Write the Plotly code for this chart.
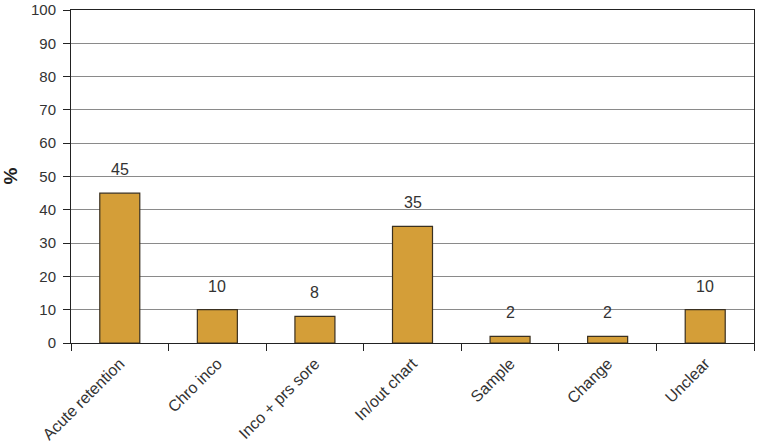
import plotly.graph_objects as go

categories = ["Acute retention", "Chro inco", "Inco + prs sore", "In/out chart", "Sample", "Change", "Unclear"]
values = [45, 10, 8, 35, 2, 2, 10]
y_ticks = list(range(0, 101, 10))

L, R, T, B = 71, 12, 10, 103
W, H = 766, 446
pw = W - L - R

fig = go.Figure()
fig.add_trace(go.Bar(
    x=categories, y=values,
    marker=dict(color="#D49E38", line=dict(color="#3a3020", width=1.2)),
    width=0.41,
))
for c, v in zip(categories, values):
    fig.add_annotation(x=c, y=v, text=str(v), showarrow=False, yanchor="bottom",
                       yshift=13, font=dict(size=16, color="#333333"))

fig.add_annotation(xref="paper", yref="paper", x=(10 - L) / pw, y=0.5,
                   text="<b>%</b>", textangle=-90, showarrow=False,
                   xanchor="center", yanchor="middle",
                   font=dict(size=19, color="#222222"))

fig.update_layout(
    width=W, height=H,
    margin=dict(l=L, r=R, t=T, b=B, autoexpand=False),
    paper_bgcolor="white", plot_bgcolor="white",
    font=dict(family="Liberation Sans, Arial, sans-serif", size=14, color="#333333"),
    showlegend=False,
    xaxis=dict(
        automargin=False,
        tickangle=-45, tickson="boundaries", ticks="outside", ticklen=7,
        tickcolor="#222222", showline=True, linecolor="#222222", linewidth=1,
        mirror=True, showgrid=False, tickfont=dict(size=16, color="#333333"),
        ticklabelstandoff=4,
    ),
    yaxis=dict(
        automargin=False,
        range=[0, 100], tickvals=y_ticks, ticks="outside", ticklen=7,
        tickcolor="#222222", showline=True, linecolor="#222222", linewidth=1,
        mirror=True, showgrid=True, gridcolor="#8a8a8a", gridwidth=1,
        zeroline=False, tickfont=dict(size=15, color="#333333"),
        ticklabelstandoff=4,
    ),
)
fig.write_html("out.html")
